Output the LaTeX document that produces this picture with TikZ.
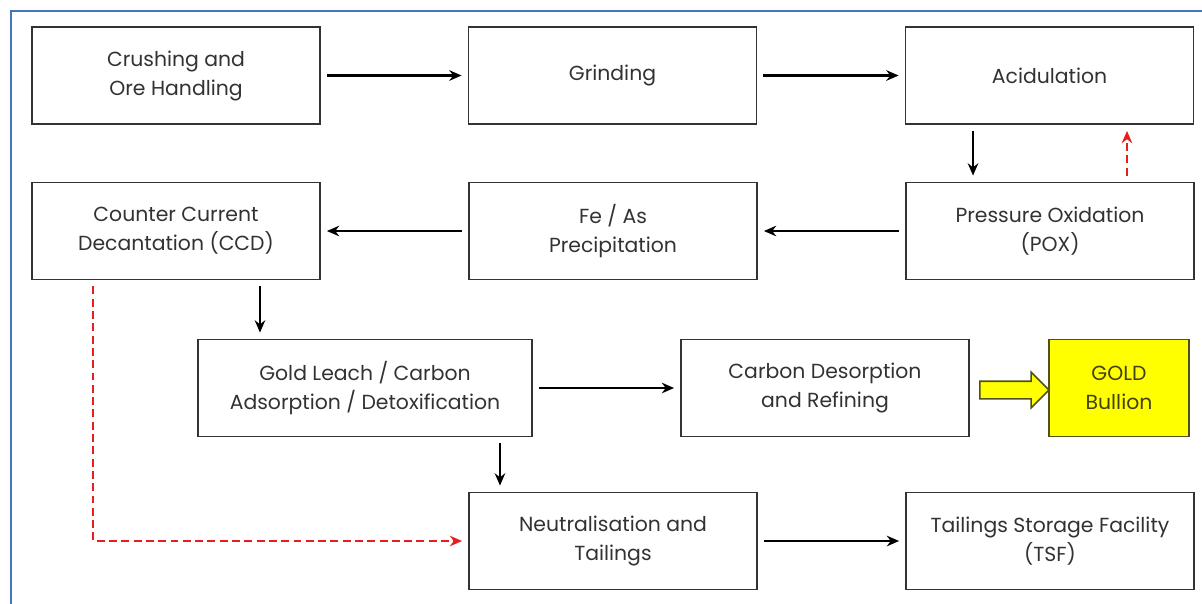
\documentclass[tikz,border=0pt]{standalone}
\usepackage{fontspec}
\setmainfont{Poppins}
\usetikzlibrary{arrows.meta,shapes.arrows,positioning}

\definecolor{frameblue}{RGB}{70,118,186}
\definecolor{boxtext}{RGB}{50,50,50}
\definecolor{goldfill}{RGB}{255,255,0}
\definecolor{goldline}{RGB}{80,80,20}
\definecolor{recycle}{RGB}{232,30,30}

\tikzset{
  procbox/.style={draw=black!80,line width=0.9pt,rectangle,minimum width=5.76cm,minimum height=1.94cm,
    align=center,text=boxtext,font=\fontsize{11.6}{16.5}\selectfont},
  flow/.style={-{Stealth[length=7pt,width=6pt]},line width=1.3pt,black,shorten <=3.5pt,shorten >=3.5pt},
  recyc/.style={flow,recycle,dash pattern=on 4.5pt off 2.5pt},
}

\begin{document}
\begin{tikzpicture}[x=0.02cm,y=-0.02cm]

\useasboundingbox (0,0) rectangle (1202,603);
\draw[frameblue,line width=1.3pt] (1215,11) -- (11,11) -- (11,615);

\node[procbox] (crush) at (176,75.5) {Crushing and\\Ore Handling};
\node[procbox] (grind) at (612.5,75.5) {Grinding};
\node[procbox] (acid) at (1049.5,75.5) {Acidulation};

\node[procbox] (ccd) at (176,231) {Counter Current\\Decantation (CCD)};
\node[procbox] (feas) at (613,231) {Fe / As\\Precipitation};
\node[procbox] (pox) at (1050,231) {Pressure Oxidation\\(POX)};

\node[procbox,minimum width=6.68cm] (leach) at (365,388) {Gold Leach / Carbon\\Adsorption / Detoxification};
\node[procbox] (desorb) at (825,388) {Carbon Desorption\\and Refining};
\node[procbox,minimum width=2.8cm,fill=goldfill,draw=goldline,text=goldline!80!black] (gold) at (1119,388) {GOLD\\Bullion};

\node[procbox] (neut) at (613,541) {Neutralisation and\\Tailings};
\node[procbox] (tsf) at (1050,541) {Tailings Storage Facility\\(TSF)};

\draw[flow] (crush) -- (grind);
\draw[flow] (grind) -- (acid);
\draw[flow] ([xshift=-1.53cm]acid.south) -- ([xshift=-1.53cm]acid.south |- pox.north);
\draw[recyc] ([xshift=1.54cm]pox.north) -- ([xshift=1.54cm]pox.north |- acid.south);
\draw[flow] (pox) -- (feas);
\draw[flow] (feas) -- (ccd);
\draw[flow] ([xshift=1.68cm]ccd.south) -- ([xshift=1.68cm]ccd.south |- leach.north);
\draw[flow] (leach) -- (desorb);
\draw[flow] ([xshift=2.7cm]leach.south) -- ([xshift=2.7cm]leach.south |- neut.north);
\draw[recyc] ([xshift=-1.66cm]ccd.south) |- (neut.west);
\draw[flow] (neut) -- (tsf);

\node[single arrow,draw=goldline,fill=goldfill,line width=0.9pt,minimum height=1.38cm,minimum width=0.68cm,
  single arrow head extend=0.18cm,inner sep=0.16cm] (bar) at (1010,390) {};

\end{tikzpicture}
\end{document}
